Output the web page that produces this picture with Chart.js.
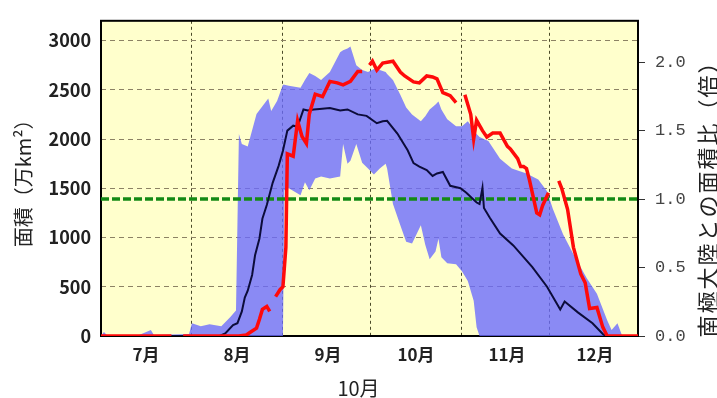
<!DOCTYPE html>
<html lang="ja">
<head>
<meta charset="utf-8">
<title>オゾンホールの面積</title>
<script src="https://cdn.jsdelivr.net/npm/chart.js@4.4.1/dist/chart.umd.min.js"></script>
<style>
  html, body { margin: 0; padding: 0; background: #fff; }
  #chart-box { width: 717px; height: 398px; }
</style>
</head>
<body>
<div id="chart-box"><canvas id="ozone-area"></canvas></div>
<script>
// x is the day counted from 1 July (0) to 31 December (183)
const MONTH_START_DAYS = [0, 31, 62, 92, 123, 153, 183];
const MONTH_LABELS = ['7月', '8月', '9月', '10月', '11月', '12月', ''];
const AREA_TICKS = [0, 500, 1000, 1500, 2000, 2500, 3000];
const RATIO_TICKS = [0, 0.5, 1.0, 1.5, 2.0];

// Range of past years (blue band): daily maximum and minimum, 万km2
const BAND_DAYS = [0, 1, 2, 13, 17, 18, 30, 31, 34, 37,
    41, 44, 46, 47, 48, 50, 53, 57, 58, 60,
    62, 62.5, 64, 68, 69.5, 71, 73, 75, 78, 81.5,
    82.5, 84, 85, 87, 89, 91, 93, 95, 97, 97.5,
    99.5, 102, 104, 106, 109, 110.5, 112, 114, 115, 116,
    118, 121, 123, 125, 127, 128, 129, 132, 136, 140,
    145, 149, 152, 154, 157.5, 161, 165.5, 169, 172.5, 174,
    176, 177.5, 179, 183];
const BAND_MAX = [0, 40, 10, 10, 60, 10, 20, 130, 100, 120,
    100, 190, 260, 2050, 1950, 1925, 2255, 2410, 2285, 2385,
    2550, 2550, 2540, 2520, 2600, 2670, 2640, 2600, 2680, 2880,
    2900, 2920, 2940, 2750, 2700, 2680, 2710, 2700, 2680, 2660,
    2600, 2450, 2320, 2250, 2180, 2230, 2300, 2350, 2380, 2300,
    2200, 2130, 2130, 2180, 2100, 2050, 2020, 1980, 1800, 1700,
    1650, 1590, 1470, 1290, 1030, 830, 590, 430, 160, 60,
    130, 10, 0, 0];
const BAND_MIN = [0, 0, 0, 0, 0, 0, 0, 0, 0, 0,
    0, 0, 0, 0, 0, 0, 0, 0, 0, 0,
    0, 1480, 1500, 1430, 1560, 1480, 1600, 1620, 1600, 1620,
    1950, 1750, 1780, 1950, 1760, 1700, 1640, 1700, 1750, 1700,
    1340, 1125, 957, 940, 1125, 927, 778, 858, 987, 800,
    738, 728, 658, 558, 359, 90, 0, 0, 0, 0,
    0, 0, 0, 0, 0, 0, 0, 0, 0, 0,
    0, 0, 0, 0];

// Mean of past years (black line)
const MEAN_DAYS = [0, 40.5, 42.5, 45, 46.5, 48, 49, 50, 51.5, 52.5,
    54, 55, 56.5, 58.5, 60.5, 62, 63.5, 65.5, 67, 69,
    70.5, 72.5, 74.5, 78, 81.5, 84, 87.5, 90.5, 94, 96,
    97.5, 101, 104.5, 106.5, 108.5, 111, 113, 114.5, 116.5, 119,
    122.5, 124.5, 128, 129, 130, 130.5, 132.5, 136, 140.5, 147,
    152, 156.5, 158, 162.5, 167.5, 171, 172, 183];
const MEAN_AREA = [0, 0, 30, 110, 130, 250, 390, 460, 620, 820,
    990, 1190, 1330, 1555, 1725, 1880, 2085, 2135, 2125, 2300,
    2290, 2300, 2305, 2315, 2290, 2300, 2250, 2235, 2160, 2180,
    2185, 2055, 1885, 1755, 1720, 1685, 1625, 1650, 1665, 1525,
    1500, 1455, 1355, 1340, 1505, 1300, 1200, 1040, 920, 700,
    500, 270, 350, 240, 130, 20, 0, 0];

// This year (red line), null = missing days
const THIS_YEAR_DAYS = [0, 24, 25, 28, 47, 49.5, 51, 53, 54, 55,
    56.5, 57.5, 58, 59.5, 61, 62, 63, 63.5, 65.5, 67,
    68.5, 70, 71, 73, 75.5, 78, 80.5, 82.5, 85, 87.5,
    89, 90, 91.5, 92.5, 94, 96, 99.5, 102, 103.5, 106.5,
    108.5, 111, 113, 114.5, 116.5, 119, 121, 122, 124, 126,
    127, 128, 130, 131.5, 133.5, 136, 138.5, 139.5, 142, 143,
    144, 145, 146, 148.5, 149.5, 150.5, 152.5, 154, 156, 157,
    159, 161, 163.5, 165, 166.5, 169, 171, 172.5, 183];
const THIS_YEAR_AREA = [0, 0, null, 0, 0, 10, 40, 80, 170, 270,
    300, 250, null, 400, 470, 500, 900, 1850, 1825, 2185,
    2025, 1955, 2255, 2455, 2430, 2585, 2570, 2550, 2585, 2685,
    2685, null, 2750, 2790, 2700, 2770, 2790, 2680, 2640, 2580,
    2570, 2640, 2630, 2610, 2470, 2440, 2370, null, 2450, 2250,
    2000, 2190, 2085, 2020, 2060, 2060, 1925, 1900, 1800, 1720,
    1720, 1700, 1585, 1250, 1230, 1325, 1455, null, 1575, 1500,
    1286, 900, 630, 540, 280, 290, 90, 0, 0];

// Area of the Antarctic continent (= 1.0 on the right axis)
const ANTARCTIC_AREA = 1390;
const AREA_MAX = 3200;
const X_MIN = 0;
const X_MAX = 183;

const RIGHT_TITLE = '南極大陸との面積比（倍）';
const PLOT_BG = '#ffffcc';
const FONT_JP = '"Noto Sans CJK JP", "Noto Sans", sans-serif';

Chart.defaults.font.family = FONT_JP;

function to_points(days, values){
    return days.map((d, i) => ({x: d, y: values[i]}));
}

// yellow plot background, black frame and the right title (reads bottom to top)
const plot_frame = {
    id: 'plot_frame',
    beforeDraw(chart){
        const {ctx, chartArea: a} = chart;
        ctx.save();
        ctx.fillStyle = PLOT_BG;
        ctx.fillRect(a.left, a.top, a.width, a.height);
        ctx.restore();
    },
    beforeDatasetsDraw(chart){
        const {ctx, chartArea: a} = chart;
        ctx.save();
        ctx.strokeStyle = '#000';
        ctx.lineWidth = 2;
        ctx.strokeRect(a.left, a.top, a.width, a.height);
        ctx.restore();
    },
    afterDraw(chart){
        const {ctx, chartArea: a} = chart;
        let right_scale = chart.scales.y2;
        ctx.save();
        ctx.translate(right_scale.right - 9, (a.top + a.bottom) / 2 + 15);
        ctx.rotate(-Math.PI / 2);
        ctx.font = '22px ' + FONT_JP;
        ctx.letterSpacing = '2px';
        ctx.textAlign = 'center';
        ctx.textBaseline = 'middle';
        ctx.fillStyle = '#222';
        ctx.fillText(RIGHT_TITLE, 0, 0);
        ctx.restore();
    }
};

function ozone_area_graph(){
    let canvas = document.getElementById('ozone-area');

    const data = {
        datasets: [{
            label: '今年',
            data: to_points(THIS_YEAR_DAYS, THIS_YEAR_AREA),
            borderColor: '#ff0a0a',
            borderWidth: 3.5,
            pointRadius: 0,
            spanGaps: false
        }, {
            label: '平年',
            data: to_points(MEAN_DAYS, MEAN_AREA),
            borderColor: '#0c0c3a',
            borderWidth: 2,
            pointRadius: 0
        }, {
            label: '南極大陸',
            data: [{x: X_MIN, y: ANTARCTIC_AREA}, {x: X_MAX, y: ANTARCTIC_AREA}],
            borderColor: '#148a14',
            borderWidth: 3.5,
            borderDash: [8, 3],
            pointRadius: 0
        }, {
            label: '最大',
            data: to_points(BAND_DAYS, BAND_MAX),
            borderColor: 'transparent',
            borderWidth: 0,
            backgroundColor: 'rgba(105,105,255,0.78)',
            pointRadius: 0,
            fill: '+1'
        }, {
            label: '最小',
            data: to_points(BAND_DAYS, BAND_MIN),
            borderColor: 'transparent',
            borderWidth: 0,
            pointRadius: 0,
            fill: false
        }]
    };

    const options = {
        responsive: true,
        maintainAspectRatio: false,
        devicePixelRatio: 1,
        animation: false,
        layout: {padding: {top: 14, left: 0, right: 0, bottom: 0}},
        plugins: {
            legend: {display: false},
            tooltip: {enabled: false},
            title: {
                display: true,
                position: 'bottom',
                text: '10月',
                color: '#222',
                font: {size: 20, weight: 'normal', lineHeight: 1},
                padding: {top: 10, bottom: 0}
            }
        },
        scales: {
            x: {
                type: 'linear',
                min: X_MIN,
                max: X_MAX,
                afterBuildTicks: scale => { scale.ticks = MONTH_START_DAYS.map(v => ({value: v})); },
                afterFit: scale => { scale.height = 32; },
                ticks: {
                    autoSkip: false,
                    maxRotation: 0,
                    labelOffset: 45,
                    padding: 8,
                    color: '#222',
                    font: {size: 17, weight: 'bold'},
                    callback: (v, i) => MONTH_LABELS[i]
                },
                grid: {color: '#4a4a28', lineWidth: 1, drawTicks: false},
                border: {display: false, dash: [3, 3]}
            },
            y: {
                position: 'left',
                min: 0,
                max: AREA_MAX,
                afterBuildTicks: scale => { scale.ticks = AREA_TICKS.map(v => ({value: v})); },
                afterFit: scale => { scale.width = 101; },
                ticks: {
                    padding: 10,
                    color: '#222',
                    font: {size: 18, weight: 'bold'},
                    callback: v => String(v)
                },
                grid: {color: '#8c8264', lineWidth: 1, drawTicks: false},
                border: {display: false, dash: [5, 4]},
                title: {
                    display: true,
                    text: '面積（万km²）',
                    color: '#222',
                    font: {size: 20},
                    padding: {top: 11}
                }
            },
            y2: {
                position: 'right',
                min: 0,
                max: AREA_MAX / ANTARCTIC_AREA,
                afterBuildTicks: scale => { scale.ticks = RATIO_TICKS.map(v => ({value: v})); },
                afterFit: scale => { scale.width = 79; },
                ticks: {
                    padding: 10,
                    color: '#444',
                    font: {family: '"Liberation Mono", "DejaVu Sans Mono", monospace', size: 17},
                    callback: v => v.toFixed(1)
                },
                grid: {drawOnChartArea: false, drawTicks: true, tickLength: 7, tickColor: '#333', tickWidth: 1},
                border: {display: false}
            }
        }
    };

    new Chart(canvas, {type: 'line', data: data, options: options, plugins: [plot_frame]});
}

ozone_area_graph();
</script>
</body>
</html>
